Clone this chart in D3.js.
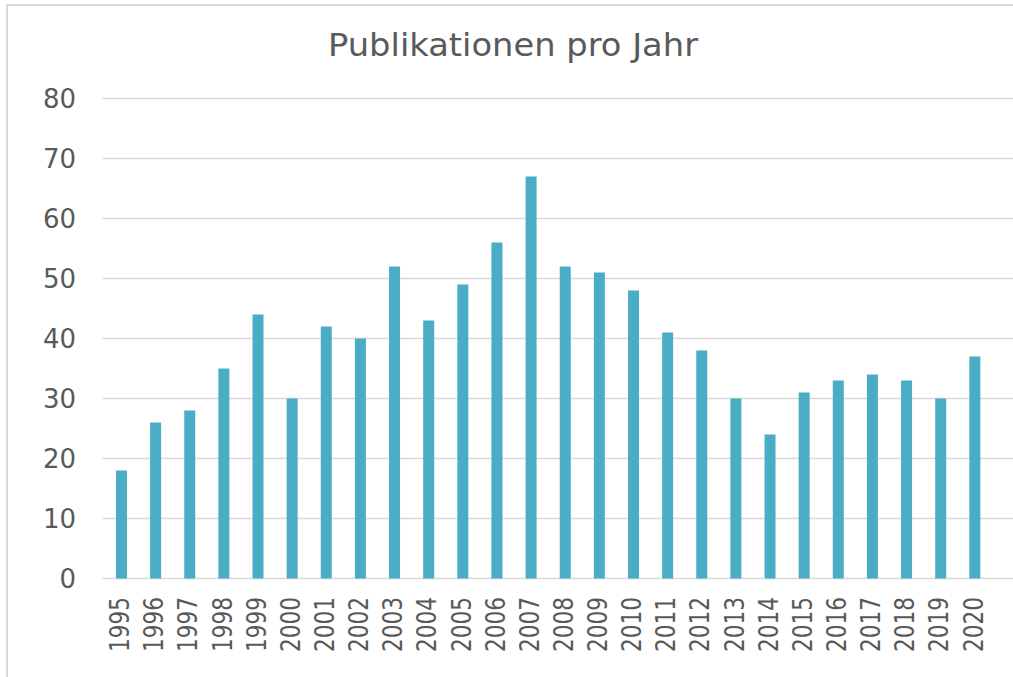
<!DOCTYPE html>
<html lang="de">
  <head>
    <meta charset="utf-8">
    <title>Publikationen pro Jahr</title>
    <script src="https://d3js.org/d3.v7.min.js"></script>
    <style>
      body { margin: 0; background: white; }
      text { font-family: "DejaVu Sans", Verdana, sans-serif; fill: #595959; }
    </style>
  </head>
  <body>
    <script>
      // data
      var years = ["1995","1996","1997","1998","1999","2000","2001","2002","2003","2004","2005","2006","2007",
                   "2008","2009","2010","2011","2012","2013","2014","2015","2016","2017","2018","2019","2020"];
      var counts = [18, 26, 28, 35, 44, 30, 42, 40, 52, 43, 49, 56, 67,
                    52, 51, 48, 41, 38, 30, 24, 31, 33, 34, 33, 30, 37];
      var yTicks = [0, 10, 20, 30, 40, 50, 60, 70, 80];
      var title = "Publikationen pro Jahr";

      var w = 1013, h = 677;

      var svg = d3.select("body").append("svg")
          .attr("width", w)
          .attr("height", h);

      // chart border
      svg.append("rect")
          .attr("x", 7).attr("y", 5)
          .attr("width", 1030).attr("height", 700)
          .attr("fill", "none")
          .attr("stroke", "#d9d9d9")
          .attr("stroke-width", 2);

      var xScale = d3.scaleBand()
          .domain(years)
          .range([104.4, 991.9])
          .paddingInner(0.678)
          .paddingOuter(0.339);

      var yScale = d3.scaleLinear()
          .domain([0, 80])
          .range([578.5, 98.5]);

      // gridlines
      svg.append("g").selectAll("line")
          .data(yTicks)
          .enter().append("line")
          .attr("x1", 102.5)
          .attr("x2", w)
          .attr("y1", d => yScale(d))
          .attr("y2", d => yScale(d))
          .attr("stroke", "#d9d9d9")
          .attr("stroke-width", 1.5);

      // y tick labels
      svg.append("g").selectAll("text")
          .data(yTicks)
          .enter().append("text")
          .attr("x", 76)
          .attr("y", d => yScale(d))
          .attr("dy", "0.36em")
          .attr("text-anchor", "end")
          .attr("font-size", 26)
          .text(d => d);

      // bars
      svg.append("g").selectAll("rect")
          .data(years)
          .enter().append("rect")
          .attr("x", d => xScale(d))
          .attr("y", (d, i) => yScale(counts[i]))
          .attr("width", xScale.bandwidth())
          .attr("height", (d, i) => yScale(0) - yScale(counts[i]))
          .attr("fill", "#4bacc6");

      // x tick labels, rotated
      svg.append("g").selectAll("text")
          .data(years)
          .enter().append("text")
          .attr("transform", d => `translate(${xScale(d) + xScale.bandwidth() / 2 - 2}, 597) rotate(-90) scale(0.8, 1)`)
          .attr("dy", "0.36em")
          .attr("text-anchor", "end")
          .attr("font-size", 27)
          .text(d => d);

      // title
      svg.append("text")
          .attr("x", 513)
          .attr("y", 56)
          .attr("text-anchor", "middle")
          .attr("font-size", 32)
          .attr("textLength", 370)
          .attr("lengthAdjust", "spacingAndGlyphs")
          .text(title);
    </script>
  </body>
</html>
